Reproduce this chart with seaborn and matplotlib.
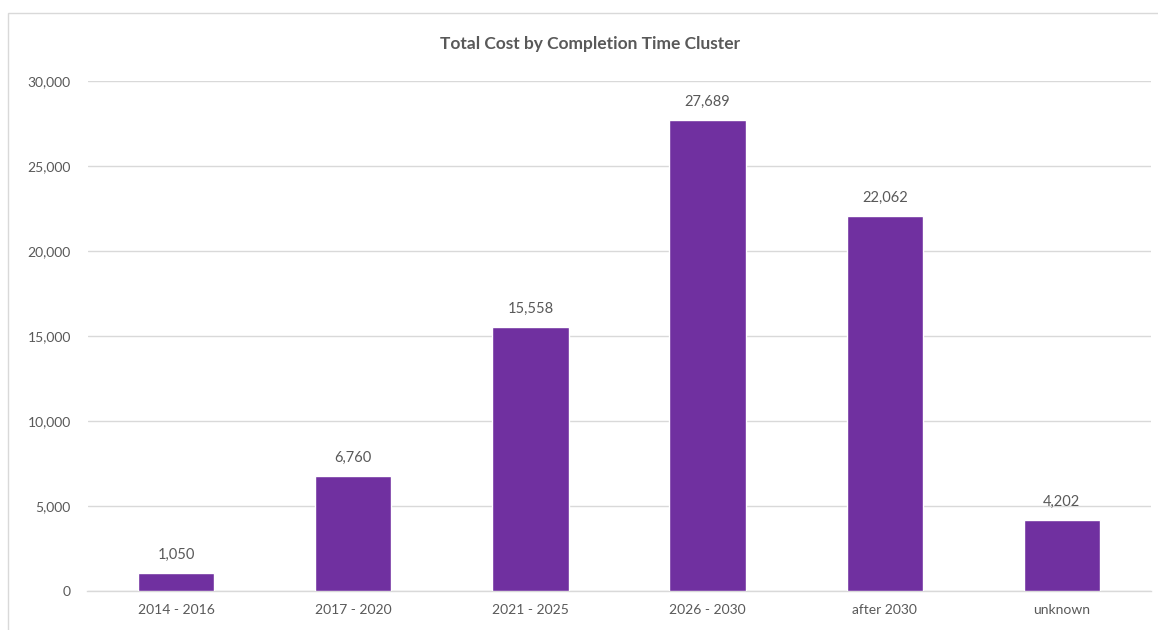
import matplotlib
matplotlib.use("Agg")
import matplotlib.pyplot as plt
import seaborn as sns
import pandas as pd
from matplotlib.patches import Rectangle
from matplotlib.ticker import FuncFormatter

# Total cost per completion-time cluster
clusters = ["2014 - 2016", "2017 - 2020", "2021 - 2025", "2026 - 2030", "after 2030", "unknown"]
total_cost = [1050, 6760, 15558, 27689, 22062, 4202]
y_ticks = [0, 5000, 10000, 15000, 20000, 25000, 30000]

df = pd.DataFrame({"cluster": clusters, "cost": total_cost})

sns.set_theme(style="white")
plt.rcParams["font.family"] = ["Lato", "DejaVu Sans"]

text_grey = "#595959"
grid_grey = "#d9d9d9"
bar_purple = "#7030A0"

fig = plt.figure(figsize=(11.58, 6.30), dpi=100)
fig.patch.set_facecolor("white")

# Outer chart frame
fig.patches.append(Rectangle((8 / 1158, -0.05), 1.2, 1 - 13 / 630 + 0.05,
                             transform=fig.transFigure, fill=False,
                             edgecolor="#d9d9d9", linewidth=1.0, zorder=0))

ax = fig.add_axes([87.5 / 1158, 1 - 591 / 630, (1150.5 - 87.5) / 1158, (591 - 81) / 630])

sns.barplot(data=df, x="cluster", y="cost", color=bar_purple, saturation=1,
            width=0.43, ax=ax, zorder=3)

ax.set_ylim(0, 30000)
ax.set_yticks(y_ticks)
ax.yaxis.set_major_formatter(FuncFormatter(lambda v, _: f"{int(v):,}"))
ax.grid(axis="y", color=grid_grey, linewidth=1.0, zorder=0)
ax.set_axisbelow(True)

for side in ("top", "right", "left"):
    ax.spines[side].set_visible(False)
ax.spines["bottom"].set_color(grid_grey)
ax.spines["bottom"].set_linewidth(1.0)

ax.set_xlabel("")
ax.set_ylabel("")
ax.tick_params(axis="both", length=0, labelsize=10, colors=text_grey)
ax.tick_params(axis="y", pad=12)
ax.tick_params(axis="x", pad=9)

for patch, value in zip(ax.patches, total_cost):
    ax.annotate(f"{value:,}", (patch.get_x() + patch.get_width() / 2, value),
                xytext=(0, 8), textcoords="offset points",
                ha="center", va="bottom", fontsize=10.5, color=text_grey)

fig.text(590 / 1158, 1 - 44 / 630, "Total Cost by Completion Time Cluster",
         ha="center", va="center", fontsize=12.5, fontweight="bold", color=text_grey)

fig.savefig("out.png", dpi=100, facecolor="white")
